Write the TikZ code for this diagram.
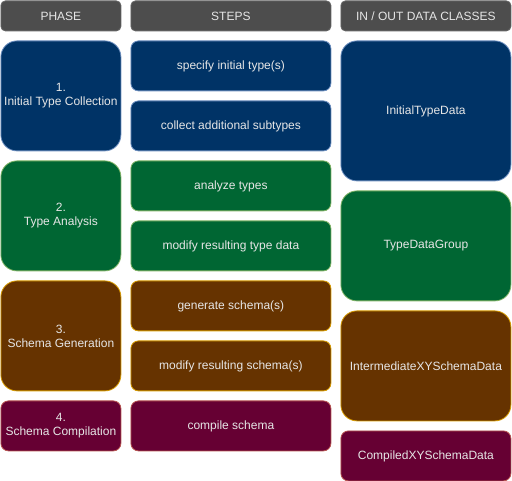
\documentclass[tikz,border=0pt]{standalone}
\usepackage{fontspec}
\setmainfont{Liberation Sans}
\definecolor{hdrfill}{HTML}{4D4D4D}
\definecolor{hdrline}{HTML}{666666}
\definecolor{bluefill}{HTML}{003366}
\definecolor{blueline}{HTML}{6C8EBF}
\definecolor{greenfill}{HTML}{006633}
\definecolor{greenline}{HTML}{82B366}
\definecolor{brownfill}{HTML}{663300}
\definecolor{brownline}{HTML}{D79B00}
\definecolor{redfill}{HTML}{660033}
\definecolor{redline}{HTML}{B85450}
\definecolor{txt}{HTML}{E6E6E6}
\tikzset{
  box/.style={draw, line width=0.8pt, anchor=north west, inner sep=0pt, align=center,
    text=txt, font=\fontsize{12}{14}\selectfont},
  hdr/.style={box, fill=hdrfill, draw=hdrline, rounded corners=4.5pt, minimum height=30pt},
  blue/.style={box, fill=bluefill, draw=blueline},
  green/.style={box, fill=greenfill, draw=greenline},
  brown/.style={box, fill=brownfill, draw=brownline},
  red/.style={box, fill=redfill, draw=redline},
  phase/.style={minimum width=120pt, rounded corners=16pt},
  phasesm/.style={minimum width=120pt, minimum height=50pt, rounded corners=7.5pt},
  stepbox/.style={minimum width=200pt, minimum height=50pt, rounded corners=7.5pt},
  data/.style={minimum width=170pt, rounded corners=16pt},
  datasm/.style={minimum width=170pt, minimum height=50pt, rounded corners=7.5pt},
}
\begin{document}
\begin{tikzpicture}[x=1pt,y=-1pt]
\useasboundingbox (0,0) rectangle (512,481);
% headers
\node[hdr, minimum width=120pt] (hphase) at (0.5,0.5) {PHASE};
\node[hdr, minimum width=200pt] (hsteps) at (130.5,0.5) {STEPS};
\node[hdr, minimum width=170pt] (hdata) at (340.5,0.5) {IN / OUT DATA CLASSES};
% phases
\node[blue, phase, minimum height=110pt] (p1) at (0.5,40.5) {1.\\Initial Type Collection};
\node[green, phase, minimum height=110pt] (p2) at (0.5,160.5) {2.\\Type Analysis};
\node[brown, phase, minimum height=110pt] (p3) at (0.5,280.5) {3.\\Schema Generation};
\node[red, phasesm] (p4) at (0.5,400.5) {4.\\Schema Compilation};
% steps
\node[blue, stepbox] (s1) at (130.5,40.5) {specify initial type(s)};
\node[blue, stepbox] (s2) at (130.5,100.5) {collect additional subtypes};
\node[green, stepbox] (s3) at (130.5,160.5) {analyze types};
\node[green, stepbox] (s4) at (130.5,220.5) {modify resulting type data};
\node[brown, stepbox] (s5) at (130.5,280.5) {generate schema(s)};
\node[brown, stepbox] (s6) at (130.5,340.5) {modify resulting schema(s)};
\node[red, stepbox] (s7) at (130.5,400.5) {compile schema};
% data
\node[blue, data, minimum height=140pt] (d1) at (340.5,40.5) {InitialTypeData};
\node[green, data, minimum height=110pt] (d2) at (340.5,190.5) {TypeDataGroup};
\node[brown, data, minimum height=110pt] (d3) at (340.5,310.5) {IntermediateXYSchemaData};
\node[red, datasm] (d4) at (340.5,430.5) {CompiledXYSchemaData};
\end{tikzpicture}
\end{document}
